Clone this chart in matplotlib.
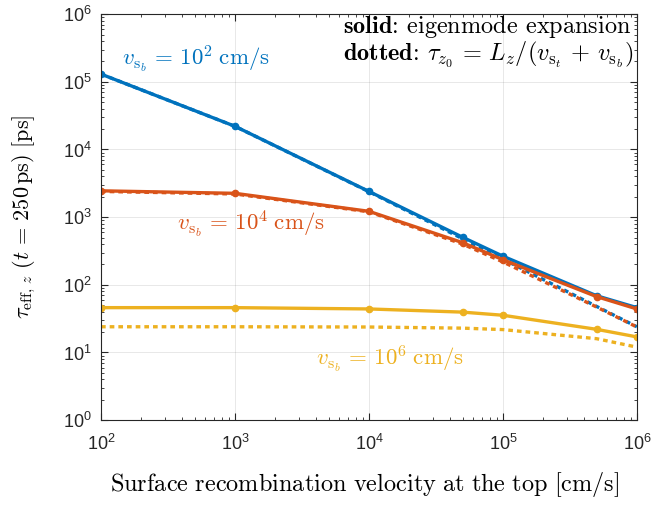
import numpy as np
import matplotlib
matplotlib.use('Agg')
import matplotlib.pyplot as plt
from matplotlib.ticker import FixedLocator, LogLocator, NullFormatter

plt.rcParams['mathtext.fontset'] = 'cm'

# Velocidad superficial en la cara superior [cm/s]
v_top = [1e2, 1e3, 1e4, 5e4, 1e5, 5e5, 1e6]

# Expansión en modos propios (curvas continuas)
tau_b2 = [1.3e5, 2.2e4, 2.4e3, 505, 265, 69, 46]
tau_b4 = [2.45e3, 2.25e3, 1.22e3, 420, 235, 67, 44]
tau_b6 = [46, 46, 44, 39.5, 35.5, 22, 17]

# Aproximación tau = Lz/(vt + vb) (curvas punteadas)
tau0_b2 = [1.3e5, 2.2e4, 2.38e3, 480, 240, 48, 24]
tau0_b4 = [2.4e3, 2.2e3, 1.2e3, 400, 218, 47, 23.8]
tau0_b6 = [24, 24, 23.8, 22.9, 21.8, 16, 12]

colores = ['#0072BD', '#D95319', '#EDB120']
etiquetas = [r'$v_{\mathrm{s}_b}\,=\,10^2\;\mathrm{cm/s}$',
             r'$v_{\mathrm{s}_b}\,=\,10^4\;\mathrm{cm/s}$',
             r'$v_{\mathrm{s}_b}\,=\,10^6\;\mathrm{cm/s}$']

fig = plt.figure(figsize=(6.69, 5.05), dpi=100)
ax = fig.add_axes([0.151, 0.168, 0.801, 0.804])

punteado = (0, (1.4, 1.2))
for tau0, c in zip([tau0_b2, tau0_b4, tau0_b6], colores):
    ax.plot(v_top, tau0, linestyle=punteado, lw=2.4, color=c,
            dash_capstyle='butt')
for tau, c in zip([tau_b2, tau_b4, tau_b6], colores):
    ax.plot(v_top, tau, '-', lw=2.4, marker='o', markersize=4.5, color=c)

ax.set_xscale('log')
ax.set_yscale('log')
ax.set_xlim(1e2, 1e6)
ax.set_ylim(1e0, 1e6)

# Ejes estilo MATLAB
ax.tick_params(which='both', direction='in', top=True, right=True,
               color='#262626', labelsize=13)
ax.tick_params(which='major', length=5)
ax.tick_params(which='minor', length=2.5)
ax.tick_params(axis='x', pad=10)
ax.tick_params(axis='y', pad=7)
for s in ax.spines.values():
    s.set_color('#262626')
    s.set_linewidth(0.8)
ax.xaxis.set_major_locator(FixedLocator([1e2, 1e3, 1e4, 1e5, 1e6]))
ax.yaxis.set_major_locator(FixedLocator([1e0, 1e1, 1e2, 1e3, 1e4, 1e5, 1e6]))
ax.xaxis.set_minor_locator(LogLocator(base=10, subs=np.arange(2, 10)))
ax.yaxis.set_minor_locator(LogLocator(base=10, subs=np.arange(2, 10)))
ax.xaxis.set_minor_formatter(NullFormatter())
ax.yaxis.set_minor_formatter(NullFormatter())
ax.set_xticklabels([r'$\mathregular{10^{%d}}$' % e for e in range(2, 7)])
ax.set_yticklabels([r'$\mathregular{10^{%d}}$' % e for e in range(0, 7)])
for lab in ax.get_xticklabels() + ax.get_yticklabels():
    lab.set_fontfamily('Liberation Sans')
    lab.set_color('#262626')
ax.grid(True, which='major', color='#262626', alpha=0.12, lw=0.6)

ax.set_xlabel(r'$\mathrm{Surface\ recombination\ velocity\ at\ the\ top\ [cm/s]}$',
              fontsize=17.5)
ax.set_ylabel(r'$\tau_{\mathrm{eff},\,z}\ (t\,=\,250\,\mathrm{ps})\ \mathrm{[ps]}$',
              fontsize=16)
ax.xaxis.set_label_coords(0.4925, -0.122)
ax.yaxis.set_label_coords(-0.118, 0.5)

# Etiquetas de cada curva
ax.text(1.43e2, 1.77e5, etiquetas[0], color=colores[0], fontsize=16.5,
        va='baseline', ha='left')
ax.text(3.67e2, 6.46e2, etiquetas[1], color=colores[1], fontsize=16.5,
        va='baseline', ha='left')
ax.text(4.0e3, 6.5, etiquetas[2], color=colores[2], fontsize=16.5,
        va='baseline', ha='left')

ax.text(0.4515, 0.953, r'$\mathbf{solid}$: eigenmode expansion',
        family='cmr10', transform=ax.transAxes, ha='left', va='baseline',
        fontsize=17.5)
ax.text(0.4515, 0.887,
        r'$\mathbf{dotted}$: $\tau_{z_0}\,=\,L_z/(v_{\mathrm{s}_t}\,+\,v_{\mathrm{s}_b})$',
        family='cmr10', transform=ax.transAxes, ha='left', va='baseline',
        fontsize=17.5)

plt.savefig('out.png', dpi=100)
